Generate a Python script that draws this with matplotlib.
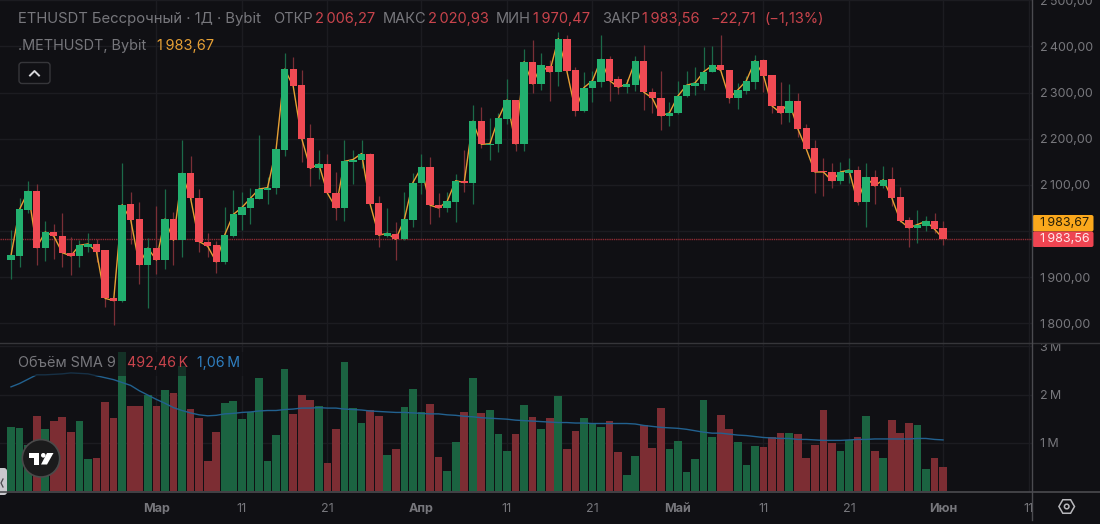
"""ETHUSDT perpetual daily candles with mark price and volume pane, dark terminal style."""
import matplotlib
matplotlib.use("Agg")
import matplotlib.pyplot as plt
from matplotlib.patches import Circle, FancyBboxPatch, Polygon, Rectangle
import numpy as np

plt.rcParams["font.family"] = ["Inter", "DejaVu Sans"]

# daily candles, Bybit
opens = [
    1938, 1946, 2045, 2086, 1964, 1998, 1990, 1953, 1946, 1966,
    1972, 1959, 1855, 1849, 2058, 2027, 1927, 1963, 1937, 2026,
    1980, 2125, 2072, 1977, 1969, 1933, 1990, 2034, 2050, 2070,
    2089, 2094, 2176, 2351, 2316, 2201, 2136, 2145, 2083, 2050,
    2149, 2154, 2168, 2060, 1989, 1993, 1982, 2024, 2103, 2138,
    2056, 2050, 2063, 2109, 2105, 2238, 2187, 2188, 2243, 2284,
    2189, 2367, 2319, 2358, 2345, 2417, 2349, 2261, 2310, 2324,
    2372, 2329, 2312, 2317, 2368, 2302, 2288, 2250, 2255, 2292,
    2315, 2319, 2345, 2359, 2349, 2288, 2304, 2323, 2371, 2338,
    2272, 2256, 2281, 2224, 2179, 2130, 2128, 2108, 2126, 2132,
    2063, 2116, 2098, 2112, 2073, 2023, 2007, 2011, 2021, 2006.27,
]
highs = [
    2002, 2071, 2108, 2102, 2022, 2015, 2039, 1987, 1980, 1996,
    1982, 1959, 1855, 2148, 2084, 2063, 1985, 2055, 2090, 2042,
    2198, 2163, 2092, 1995, 1979, 2053, 2089, 2085, 2094, 2208,
    2118, 2177, 2385, 2377, 2349, 2233, 2176, 2167, 2128, 2197,
    2176, 2197, 2170, 2076, 2049, 2020, 2085, 2125, 2167, 2160,
    2083, 2085, 2123, 2176, 2273, 2268, 2246, 2256, 2329, 2285,
    2394, 2414, 2385, 2371, 2432, 2426, 2355, 2345, 2347, 2424,
    2380, 2336, 2329, 2379, 2403, 2309, 2347, 2280, 2326, 2347,
    2356, 2398, 2400, 2424, 2349, 2320, 2336, 2382, 2372, 2338,
    2323, 2318, 2300, 2231, 2197, 2158, 2147, 2150, 2158, 2141,
    2147, 2132, 2142, 2139, 2096, 2031, 2045, 2032, 2038, 2020.93,
]
lows = [
    1895, 1922, 2038, 1926, 1935, 1940, 1922, 1905, 1921, 1954,
    1933, 1836, 1796, 1846, 1972, 1885, 1833, 1906, 1917, 1926,
    1943, 2067, 1955, 1944, 1909, 1928, 1987, 2003, 2015, 2070,
    2058, 2081, 2163, 2314, 2150, 2098, 2113, 2082, 2024, 2022,
    2102, 2137, 2058, 1966, 1988, 1937, 1980, 2009, 2080, 2015,
    2031, 2042, 2020, 2085, 2058, 2179, 2155, 2172, 2233, 2174,
    2174, 2300, 2306, 2282, 2315, 2347, 2249, 2259, 2280, 2312,
    2282, 2297, 2300, 2304, 2262, 2256, 2219, 2228, 2254, 2290,
    2295, 2306, 2344, 2348, 2277, 2264, 2297, 2307, 2302, 2255,
    2233, 2237, 2204, 2178, 2083, 2076, 2093, 2102, 2103, 2056,
    2008, 2058, 2093, 2054, 2020, 1966, 1975, 2001, 1995, 1970.47,
]
closes = [
    1947, 2047, 2086, 1964, 1998, 1989, 1953, 1946, 1969, 1972,
    1955, 1854, 1849, 2057, 2024, 1927, 1963, 1937, 2026, 1980,
    2125, 2071, 1977, 1967, 1933, 1992, 2036, 2051, 2071, 2091,
    2094, 2177, 2351, 2314, 2200, 2136, 2145, 2082, 2050, 2151,
    2155, 2168, 2058, 1991, 1995, 1982, 2025, 2105, 2138, 2056,
    2050, 2064, 2109, 2105, 2238, 2188, 2189, 2244, 2284, 2189,
    2367, 2319, 2359, 2345, 2417, 2347, 2261, 2311, 2326, 2372,
    2326, 2312, 2318, 2368, 2301, 2288, 2250, 2256, 2293, 2316,
    2321, 2345, 2359, 2348, 2288, 2306, 2326, 2369, 2337, 2271,
    2256, 2281, 2222, 2178, 2128, 2128, 2109, 2128, 2132, 2063,
    2116, 2098, 2111, 2072, 2022, 2007, 2014, 2021, 2004, 1983.56,
]
# .METHUSDT mark price close
mark_close = [
    1947, 2047, 2086, 1964, 1998, 1989, 1953, 1946, 1969, 1972,
    1955, 1854, 1849, 2057, 2024, 1927, 1963, 1937, 2026, 1980,
    2125, 2071, 1977, 1967, 1933, 1992, 2036, 2051, 2071, 2091,
    2094, 2177, 2351, 2314, 2200, 2136, 2145, 2082, 2050, 2151,
    2155, 2168, 2058, 1991, 1995, 1982, 2025, 2105, 2138, 2056,
    2050, 2064, 2109, 2105, 2238, 2188, 2189, 2244, 2284, 2189,
    2367, 2319, 2359, 2345, 2417, 2347, 2261, 2311, 2326, 2372,
    2326, 2312, 2318, 2368, 2301, 2288, 2250, 2256, 2293, 2316,
    2321, 2345, 2359, 2348, 2288, 2306, 2326, 2369, 2337, 2271,
    2256, 2281, 2222, 2178, 2128, 2128, 2109, 2128, 2132, 2063,
    2116, 2098, 2111, 2072, 2022, 2007, 2014, 2021, 2004, 1983.67,
]
# volume in millions and its 9-day average
volume = [
    1.32, 1.30, 0.95, 1.56, 1.28, 1.45, 1.53, 1.22, 1.45, 0.67,
    0.69, 1.85, 1.51, 2.88, 1.76, 1.76, 1.99, 1.77, 2.09, 2.03,
    2.60, 1.70, 1.52, 0.62, 1.22, 1.83, 1.86, 1.49, 1.63, 2.35,
    0.62, 1.16, 2.54, 1.60, 1.99, 1.89, 1.77, 0.58, 1.29, 2.68,
    1.72, 1.41, 1.67, 1.55, 0.74, 0.87, 1.74, 2.11, 1.63, 1.80,
    0.71, 0.41, 1.02, 1.64, 2.35, 1.61, 1.69, 1.19, 0.82, 1.18,
    1.78, 1.53, 1.29, 1.51, 1.98, 0.87, 1.24, 1.51, 1.38, 1.32,
    1.45, 0.80, 0.33, 0.73, 1.36, 0.89, 1.73, 0.87, 1.03, 0.39,
    0.66, 1.88, 1.12, 1.57, 1.29, 1.02, 0.54, 0.93, 0.91, 1.11,
    1.20, 1.20, 1.18, 0.68, 0.95, 1.69, 1.00, 0.84, 1.06, 1.12,
    1.56, 0.83, 0.68, 1.47, 1.20, 1.41, 1.36, 0.45, 0.68, 0.49,
]
volume_sma = [
    2.16, 2.23, 2.32, 2.41, 2.41, 2.42, 2.43, 2.45, 2.44, 2.43,
    2.39, 2.35, 2.31, 2.25, 2.19, 2.08, 1.99, 1.90, 1.82, 1.73,
    1.67, 1.62, 1.58, 1.56, 1.57, 1.60, 1.61, 1.63, 1.64, 1.66,
    1.67, 1.67, 1.69, 1.70, 1.72, 1.72, 1.73, 1.72, 1.72, 1.70,
    1.69, 1.68, 1.66, 1.65, 1.64, 1.63, 1.63, 1.62, 1.61, 1.60,
    1.60, 1.58, 1.57, 1.55, 1.54, 1.52, 1.51, 1.50, 1.49, 1.47,
    1.46, 1.45, 1.44, 1.43, 1.42, 1.42, 1.41, 1.41, 1.40, 1.40,
    1.40, 1.40, 1.40, 1.39, 1.36, 1.34, 1.32, 1.31, 1.30, 1.28,
    1.25, 1.22, 1.20, 1.20, 1.18, 1.16, 1.15, 1.13, 1.11, 1.10,
    1.09, 1.09, 1.07, 1.07, 1.06, 1.05, 1.05, 1.05, 1.06, 1.07,
    1.07, 1.08, 1.08, 1.08, 1.08, 1.08, 1.09, 1.09, 1.07, 1.06,
]

price_ticks = [1800, 1900, 2000, 2100, 2200, 2300, 2400, 2500]
price_tick_labels = ["1\u2009800,00", "1\u2009900,00", "", "2\u2009100,00", "2\u2009200,00",
                     "2\u2009300,00", "2\u2009400,00", "2\u2009500,00"]
vol_ticks = [1, 2, 3]
vol_tick_labels = ["1\u2009M", "2\u2009M", "3\u2009M"]
date_ticks = [17, 27, 37, 48, 58, 68, 78, 88, 98, 109, 119]
date_labels = ["Мар", "11", "21", "Апр", "11", "21", "Май", "11", "21", "Июн", "11"]
month_labels = ["Мар", "Апр", "Май", "Июн"]

BG = "#101014"
GRID = "#1c1c21"
AXIS = "#4b4b50"
TEXT = "#77777c"
UP = "#22b06f"
DOWN = "#f04a53"
UP_WICK = "#1b6a49"
DOWN_WICK = "#7a2f36"
UP_VOL = "#1b6341"
DOWN_VOL = "#7c2d33"
RED_TEXT = "#c9444c"
ORANGE = "#e6a035"
W, H = 1100, 524

x = np.arange(len(closes))
o, h, l, c = map(np.array, (opens, highs, lows, closes))
up = c >= o

fig = plt.figure(figsize=(W / 100, H / 100), dpi=100, facecolor=BG)
ax = fig.add_axes([0, 1 - 343 / H, 1032 / W, 343 / H], facecolor=BG)
ax_vol = fig.add_axes([0, 1 - 491.5 / H, 1032 / W, 148.5 / H], facecolor=BG)

# --- candles ---
ax.vlines(x, l, h, colors=[UP_WICK if u else DOWN_WICK for u in up], linewidth=0.9, zorder=2)
ax.plot(x, mark_close, color=ORANGE, linewidth=1.0, zorder=3)
ax.bar(x, np.abs(c - o), bottom=np.minimum(o, c), width=0.86,
       color=[UP if u else DOWN for u in up], linewidth=0, zorder=4)
ax.axhline(closes[-1], color="#8e2c34", linewidth=1.0, linestyle=(0, (1, 0.6)), zorder=1)
ax.set_ylim(1757.2, 2500.8)
ax.set_yticks(price_ticks)
ax.set_yticklabels(price_tick_labels)

# --- volume pane ---
ax_vol.bar(x, volume, width=0.9, color=[UP_VOL if u else DOWN_VOL for u in up], linewidth=0, zorder=2)
ax_vol.plot(x, volume_sma, color="#22618f", linewidth=1.0, zorder=3)
ax_vol.set_ylim(-0.01, 3.07)
ax_vol.set_yticks(vol_ticks)
ax_vol.set_yticklabels(vol_tick_labels)
ax_vol.set_xticks(date_ticks)
ax_vol.set_xticklabels(date_labels)

for a in (ax, ax_vol):
    a.set_xlim(-1.287, 119.4)
    a.set_xticks(date_ticks)
    a.grid(True, color=GRID, linewidth=1.0)
    a.set_axisbelow(True)
    a.yaxis.tick_right()
    a.tick_params(axis="y", length=0, pad=6, labelsize=9.0, labelcolor=TEXT)
    for s in a.spines.values():
        s.set_visible(False)
ax.tick_params(axis="x", length=0, labelbottom=False)
ax_vol.tick_params(axis="x", length=0, pad=8.3, labelsize=9, labelcolor=TEXT)
for lab in ax_vol.get_xticklabels():
    if lab.get_text() in month_labels:
        lab.set_fontweight("bold")

# overlay in pixel coordinates for the terminal chrome
ov = fig.add_axes([0, 0, 1, 1], facecolor="none", zorder=10)
ov.set_xlim(0, W)
ov.set_ylim(H, 0)
ov.axis("off")

# volume legend sits on a dimming strip
ov.add_patch(Rectangle((15, 352), 230, 24, color=BG, alpha=0.6, linewidth=0))
ov.add_patch(Rectangle((1033, 336), 67, 7, color=BG, linewidth=0))

ov.plot([0, W], [343, 343], color="#36363a", linewidth=1.0)
ov.plot([0, W], [491.5, 491.5], color=AXIS, linewidth=1.2)
ov.plot([1032.3, 1032.3], [0, 520], color=AXIS, linewidth=1.0)

def label(px, py, s, color=TEXT, size=10.5, **kw):
    ov.text(px, py, s, color=color, fontsize=size, va="center", ha=kw.pop("ha", "left"), **kw)

label(18, 19, "ETHUSDT Бессрочный · 1Д · Bybit", size=10.7)
label(273, 19, "ОТКР")
label(315, 19, "2\u2009006,27", RED_TEXT)
label(383, 19, "МАКС")
label(428, 19, "2\u2009020,93", RED_TEXT)
label(496, 19, "МИН")
label(533, 19, "1\u2009970,47", RED_TEXT)
label(602, 19, "ЗАКР")
label(642, 19, "1\u2009983,56", RED_TEXT)
label(710, 19, "\u221222,71", RED_TEXT)
label(765, 19, "(\u22121,13%)", RED_TEXT)
label(18, 46, ".METHUSDT, Bybit", size=10.4)
label(157, 46, "1\u2009983,67", ORANGE)
label(18, 363, "Объём SMA 9", size=10.4)
label(127, 363, "492,46\u2009K", RED_TEXT, size=10.2)
label(197, 363, "1,06\u2009M", "#2f7fc1", size=10.2)

# collapse button
ov.add_patch(FancyBboxPatch((19, 62.5), 31, 21, boxstyle="round,pad=0,rounding_size=3",
                            fc="none", ec="#36363a", linewidth=1.0))
ov.plot([30, 34.5, 39], [75.5, 71, 75.5], color="#d8d8dc", linewidth=1.4)

# last price tags
ov.add_patch(FancyBboxPatch((1032.5, 215), 61, 16.5, boxstyle="round,pad=0,rounding_size=2",
                            fc="#fba81c", ec="none"))
ov.add_patch(FancyBboxPatch((1032.5, 231.5), 61, 15.5, boxstyle="round,pad=0,rounding_size=2",
                            fc="#ee4451", ec="none"))
label(1040, 223, "1\u2009983,67", "#2b2108", 9.0)
label(1040, 239, "1\u2009983,56", "#ffe9ea", 9.0)

# logo badge
ov.add_patch(Circle((41, 458.3), 18.7, fc="#1b1b1c", ec="#4a4a4a", linewidth=1.2))
ov.add_patch(Polygon([(28.7, 453), (39.3, 453), (39.3, 464.5), (33.6, 464.5), (33.6, 457.5), (28.7, 457.5)],
                     fc="white", ec="none"))
ov.add_patch(Circle((43.3, 455.3), 2.3, fc="white", ec="none"))
ov.add_patch(Polygon([(47, 453), (53.5, 453), (47, 464.5), (41, 464.5)], fc="white", ec="none"))

# side handle
ov.add_patch(FancyBboxPatch((-6, 468), 13, 27, boxstyle="round,pad=0,rounding_size=3",
                            fc="#c9c9cd", ec="none", clip_on=True))
ov.plot([3, 1, 3], [479, 483, 487], color="#4a4a4e", linewidth=0.9)

# settings icon
hex_t = np.deg2rad(np.arange(0, 360, 60))
ov.add_patch(Polygon(np.column_stack([1066.7 + 7.8 * np.cos(hex_t), 506.5 + 7.8 * np.sin(hex_t)]),
                     fc="none", ec="#b8b8bc", linewidth=1.1))
ov.add_patch(Circle((1066.7, 506.5), 2.3, fc="none", ec="#b8b8bc", linewidth=1.1))

plt.savefig("out.png", dpi=100, facecolor=BG)
plt.close()
